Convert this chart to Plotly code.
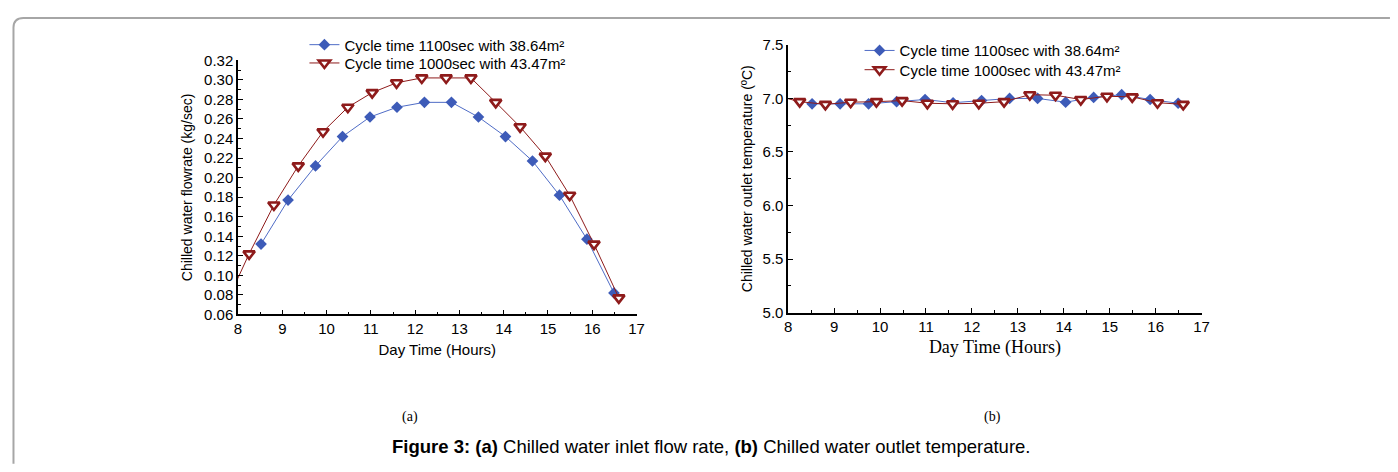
import plotly.graph_objects as go

# ---- data ----
hours_1100 = [8.52, 9.13, 9.75, 10.36, 10.98, 11.59, 12.21, 12.82, 13.43, 14.04, 14.65, 15.26, 15.88, 16.49]
hours_1000 = [7.70, 8.25, 8.81, 9.36, 9.92, 10.48, 11.03, 11.58, 12.15, 12.70, 13.26, 13.82, 14.37, 14.94, 15.49, 16.04, 16.60]

flow_1100 = [0.132, 0.177, 0.212, 0.242, 0.262, 0.272, 0.277, 0.277, 0.262, 0.242, 0.217, 0.182, 0.137, 0.082]
flow_1000 = [0.068, 0.122, 0.172, 0.212, 0.247, 0.272, 0.287, 0.297, 0.302, 0.302, 0.302, 0.277, 0.252, 0.222, 0.182, 0.132, 0.077]

temp_1100 = [6.95, 6.95, 6.95, 6.97, 6.99, 6.96, 6.98, 7.00, 7.00, 6.965, 7.01, 7.035, 6.99, 6.955]
temp_1000 = [7.03, 6.97, 6.945, 6.965, 6.97, 6.98, 6.955, 6.95, 6.955, 6.97, 7.035, 7.03, 6.99, 7.02, 7.015, 6.96, 6.945]

name_1100 = "Cycle time 1100sec with 38.64m²"
name_1000 = "Cycle time 1000sec with 43.47m²"

x_ticks = list(range(8, 18))
flow_ticks = [round(0.06 + 0.02 * i, 2) for i in range(14)]
temp_ticks = [5.0, 5.5, 6.0, 6.5, 7.0, 7.5]

# ---- styles ----
PAGE_W, PAGE_H = 1398, 472
BODY = 8                      # default browser body margin
FW, FH = PAGE_W - 2 * BODY, PAGE_H - 2 * BODY
SANS = "Liberation Sans, Arial, sans-serif"
SERIF = "Liberation Serif, Times New Roman, serif"
BLUE_LINE = "#4f6cc6"
BLUE_MARK = "#3d5bb8"
RED = "#8e1b1b"


def px_x(p):
    """page pixel x -> paper fraction"""
    return (p - BODY) / FW


def px_y(p):
    """page pixel y -> paper fraction"""
    return 1 - (p - BODY) / FH


fig = go.Figure()

blue_style = dict(mode="lines+markers", line=dict(color=BLUE_LINE, width=1),
                  marker=dict(symbol="diamond", size=9, color=BLUE_MARK))
red_style = dict(mode="lines+markers", line=dict(color=RED, width=1),
                 marker=dict(symbol="triangle-down", size=10, color="white",
                             line=dict(color=RED, width=2.6)))

fig.add_trace(go.Scatter(x=hours_1100, y=flow_1100, name=name_1100, xaxis="x", yaxis="y",
                         legend="legend", **blue_style))
fig.add_trace(go.Scatter(x=hours_1000, y=flow_1000, name=name_1000, xaxis="x", yaxis="y",
                         legend="legend2", **red_style))
fig.add_trace(go.Scatter(x=hours_1100, y=temp_1100, name=name_1100, xaxis="x2", yaxis="y2",
                         legend="legend3", **blue_style))
fig.add_trace(go.Scatter(x=hours_1000, y=temp_1000, name=name_1000, xaxis="x2", yaxis="y2",
                         legend="legend4", **red_style))

axis_common = dict(showline=True, linecolor="black", linewidth=1.5, showgrid=False,
                   zeroline=False, ticks="inside", ticklen=5, tickwidth=1.3, tickcolor="black",
                   mirror=False)
tickfont = dict(family=SANS, size=15, color="black")


def legend_at(x, y):
    return dict(x=px_x(x), y=px_y(y), xanchor="left", yanchor="middle",
                bgcolor="rgba(0,0,0,0)", borderwidth=0, tracegroupgap=0,
                font=dict(family=SANS, size=15, color="black"))


fig.update_layout(
    width=FW, height=FH,
    margin=dict(l=0, r=0, t=0, b=0),
    paper_bgcolor="white", plot_bgcolor="white",
    xaxis=dict(domain=[px_x(236), px_x(638)], range=[8, 17], tickvals=x_ticks,
               anchor="y", tickfont=tickfont,
               title=dict(text="Day Time (Hours)", font=dict(family=SANS, size=15, color="black"),
                          standoff=8),
               minor=dict(dtick=0.5, ticks="inside", ticklen=3, tickcolor="black"),
               **axis_common),
    yaxis=dict(domain=[px_y(317), px_y(53)], range=[0.06, 0.32], tickvals=flow_ticks,
               tickformat=".2f", anchor="x", tickfont=tickfont,
               title=dict(text="Chilled water flowrate (kg/sec)",
                          font=dict(family=SANS, size=14, color="black"), standoff=8),
               minor=dict(dtick=0.01, ticks="inside", ticklen=3, tickcolor="black"),
               **axis_common),
    xaxis2=dict(domain=[px_x(791), px_x(1208)], range=[8, 17], tickvals=x_ticks,
                anchor="y2", tickfont=tickfont,
                title=dict(text="Day Time (Hours)", font=dict(family=SERIF, size=18, color="black"),
                           standoff=6),
                minor=dict(dtick=0.5, ticks="inside", ticklen=3, tickcolor="black"),
                **axis_common),
    yaxis2=dict(domain=[px_y(315), px_y(37)], range=[5.0, 7.5], tickvals=temp_ticks,
                tickformat=".1f", anchor="x2", tickfont=tickfont,
                title=dict(text="Chilled water outlet temperature (ºC)",
                           font=dict(family=SANS, size=14, color="black"), standoff=7),
                minor=dict(dtick=0.25, ticks="inside", ticklen=3, tickcolor="black"),
                **axis_common),
    legend=legend_at(303, 37),
    legend2=legend_at(303, 56),
    legend3=legend_at(863, 43),
    legend4=legend_at(863, 63),
    showlegend=True,
)

# caption texts
fig.add_annotation(x=px_x(409), y=px_y(423), xref="paper", yref="paper", text="(a)",
                   xanchor="center", yanchor="middle",
                   showarrow=False, font=dict(family=SERIF, size=14, color="black"))
fig.add_annotation(x=px_x(997), y=px_y(423), xref="paper", yref="paper", text="(b)",
                   xanchor="center", yanchor="middle",
                   showarrow=False, font=dict(family=SERIF, size=14, color="black"))
fig.add_annotation(x=px_x(714), y=px_y(454), xref="paper", yref="paper",
                   xanchor="center", yanchor="middle",
                   text="<b>Figure 3: (a)</b> Chilled water inlet flow rate, <b>(b)</b> Chilled water outlet temperature.",
                   showarrow=False, font=dict(family=SANS, size=18.5, color="black"))

# rounded frame (top and left edges)
fx, fy, r = px_x(9.5), px_y(9), 10
path = (f"M {px_x(PAGE_W)} {fy} L {px_x(9.5 + r)} {fy} "
        f"Q {fx} {fy} {fx} {px_y(9 + r)} L {fx} {px_y(PAGE_H)}")
fig.add_shape(type="path", path=path, xref="paper", yref="paper",
              line=dict(color="#a6a6a6", width=2))

fig.write_html("out.html", config={"displayModeBar": False})
